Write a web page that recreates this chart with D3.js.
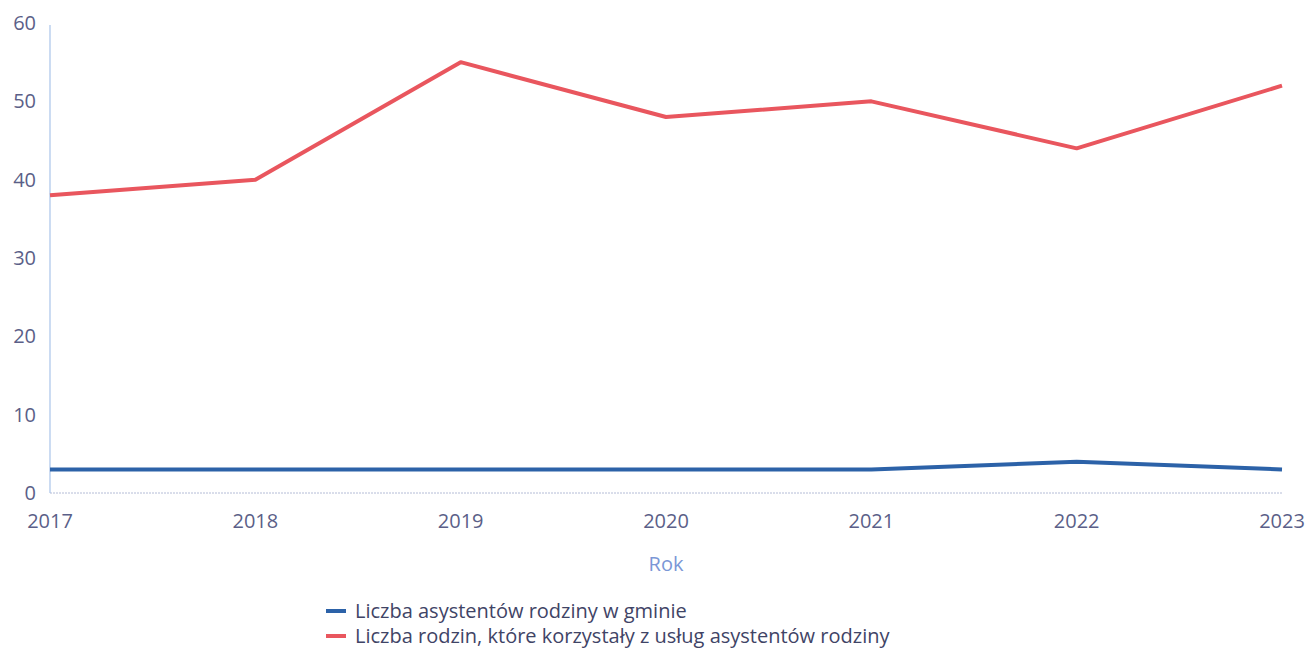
<!DOCTYPE html>
<html>
<head>
<meta charset="utf-8">
<script src="https://cdn.jsdelivr.net/npm/d3@7"></script>
<style>
  body { margin: 0; background: #fff; }
  svg text { font-family: "Open Sans", "Noto Sans", sans-serif; }
</style>
</head>
<body>
<div id="chart"></div>
<script>
var years = ["2017", "2018", "2019", "2020", "2021", "2022", "2023"];
var asystenci = [3, 3, 3, 3, 3, 4, 3];
var rodziny = [38, 40, 55, 48, 50, 44, 52];
var yTicks = [0, 10, 20, 30, 40, 50, 60];
var seriesNames = ["Liczba asystentów rodziny w gminie", "Liczba rodzin, które korzystały z usług asystentów rodziny"];
var seriesColors = ["#2c62a8", "#e9565e"];

var svg = d3.select("#chart").append("svg").attr("width", 1306).attr("height", 650),
    margin = {top: 23, right: 24, bottom: 157, left: 50},
    width = +svg.attr("width") - margin.left - margin.right,
    height = +svg.attr("height") - margin.top - margin.bottom;

var x = d3.scalePoint().domain(years).range([0, width]);
var y = d3.scaleLinear().domain([0, 60]).range([height, 0]);

var g = svg.append("g")
    .attr("transform", "translate(" + margin.left + "," + margin.top + ")");

// x axis: dotted light line
g.append("line")
    .attr("x1", 0).attr("x2", width)
    .attr("y1", height).attr("y2", height)
    .attr("stroke", "#b4bcd6").attr("stroke-width", 1)
    .attr("stroke-dasharray", "2,1");

// y axis: light blue line
g.append("line")
    .attr("x1", 0).attr("x2", 0)
    .attr("y1", y(60) + 2).attr("y2", height)
    .attr("stroke", "#a9c4ea").attr("stroke-width", 1.2);

g.selectAll(".ytick")
    .data(yTicks)
    .enter().append("text")
    .attr("class", "ytick")
    .attr("x", -14)
    .attr("y", function (d) { return y(d); })
    .attr("dy", "0.35em")
    .attr("text-anchor", "end")
    .attr("fill", "#5b5f88")
    .style("font-size", "20px")
    .text(function (d) { return d; });

g.selectAll(".xtick")
    .data(years)
    .enter().append("text")
    .attr("class", "xtick")
    .attr("x", function (d) { return x(d); })
    .attr("y", height + 35)
    .attr("text-anchor", "middle")
    .attr("fill", "#5b5f88")
    .style("font-size", "20px")
    .text(function (d) { return d; });

g.append("text")
    .attr("x", x("2020"))
    .attr("y", height + 78)
    .attr("text-anchor", "middle")
    .attr("fill", "#7b97d6")
    .style("font-size", "20px")
    .text("Rok");

var line = d3.line()
    .x(function (d, i) { return x(years[i]); })
    .y(function (d) { return y(d); });

[asystenci, rodziny].forEach(function (s, i) {
    g.append("path")
        .datum(s)
        .attr("fill", "none")
        .attr("stroke", seriesColors[i])
        .attr("stroke-width", 4)
        .attr("stroke-linejoin", "round")
        .attr("d", line);
});

// legend
var legend = svg.selectAll(".leg")
    .data(seriesNames)
    .enter().append("g")
    .attr("class", "leg")
    .attr("transform", function (d, i) { return "translate(326," + (611 + i * 25) + ")"; });

legend.append("line")
    .attr("x1", 0).attr("x2", 20)
    .attr("stroke", function (d, i) { return seriesColors[i]; })
    .attr("stroke-width", 4);

legend.append("text")
    .attr("x", 29)
    .attr("dy", "0.35em")
    .attr("fill", "#3f4466")
    .style("font-size", "20px")
    .text(function (d) { return d; });
</script>
</body>
</html>
